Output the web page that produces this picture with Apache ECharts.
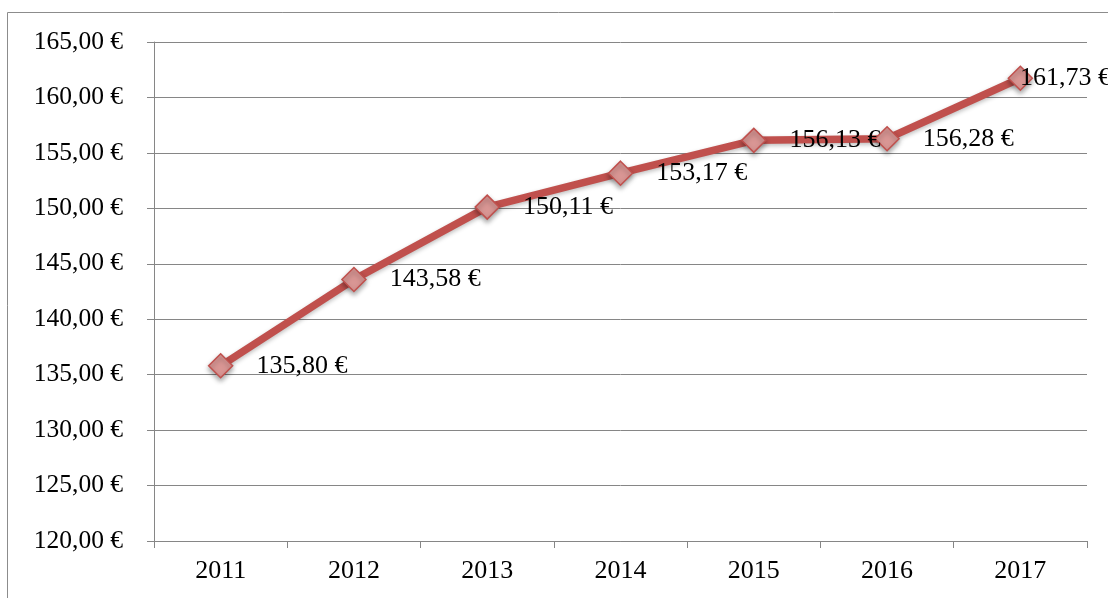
<!DOCTYPE html>
<html>
<head>
<meta charset="utf-8">
<script src="https://cdn.jsdelivr.net/npm/echarts@6/dist/echarts.min.js"></script>
<style>
html,body{margin:0;padding:0;background:#fff;}
#chart{width:1108px;height:598px;}
</style>
</head>
<body>
<div id="chart"></div>
<script>
const categories = ['2011', '2012', '2013', '2014', '2015', '2016', '2017'];
const values = [135.80, 143.58, 150.11, 153.17, 156.13, 156.28, 161.73];
const yMin = 120, yMax = 165, yStep = 5;

const FONT = "'Liberation Serif', 'Times New Roman', serif";
const fmt = v => v.toFixed(2).replace('.', ',') + ' €';

const chart = echarts.init(document.getElementById('chart'), null, {renderer: 'canvas'});
const seriesData = values.map((v, i) => {
  const d = {value: v};
  if (i === values.length - 1) {
    d.label = {offset: [-36, 0]};
  }
  return d;
});

chart.setOption({
  animation: false,
  backgroundColor: '#fff',
  graphic: [{
    type: 'rect',
    shape: {x: 7.5, y: 12.5, width: 1300, height: 800},
    style: {fill: 'none', stroke: '#8c8c8c', lineWidth: 1},
    silent: true
  }],
  grid: {left: 154, right: 21, top: 42, bottom: 57},
  xAxis: {
    type: 'category',
    data: categories,
    boundaryGap: true,
    axisLine: {lineStyle: {color: '#868686', width: 1}},
    axisTick: {show: true, alignWithLabel: false, length: 7, lineStyle: {color: '#868686'}},
    axisLabel: {color: '#000', fontFamily: FONT, fontSize: 26, margin: 17}
  },
  yAxis: {
    type: 'value',
    min: yMin, max: yMax, interval: yStep,
    axisLine: {show: true, lineStyle: {color: '#868686', width: 1}},
    axisTick: {show: true, length: 7, lineStyle: {color: '#868686'}},
    splitLine: {lineStyle: {color: '#868686', width: 1}},
    axisLabel: {color: '#000', fontFamily: FONT, fontSize: 25.5, margin: 31, formatter: fmt}
  },
  series: [{
    type: 'line',
    data: seriesData,
    symbol: 'diamond',
    symbolSize: 24,
    lineStyle: {color: '#C0504D', width: 7.5, shadowColor: 'rgba(0,0,0,0.25)', shadowBlur: 4, shadowOffsetY: 2},
    itemStyle: {color: '#D99694', borderColor: '#C0504D', borderWidth: 1.5, shadowColor: 'rgba(0,0,0,0.35)', shadowBlur: 5, shadowOffsetY: 3},
    label: {
      show: true,
      position: 'right',
      distance: 23,
      color: '#000',
      fontFamily: FONT,
      fontSize: 26,
      formatter: p => fmt(p.value)
    },
    z: 3
  }]
});
</script>
</body>
</html>
